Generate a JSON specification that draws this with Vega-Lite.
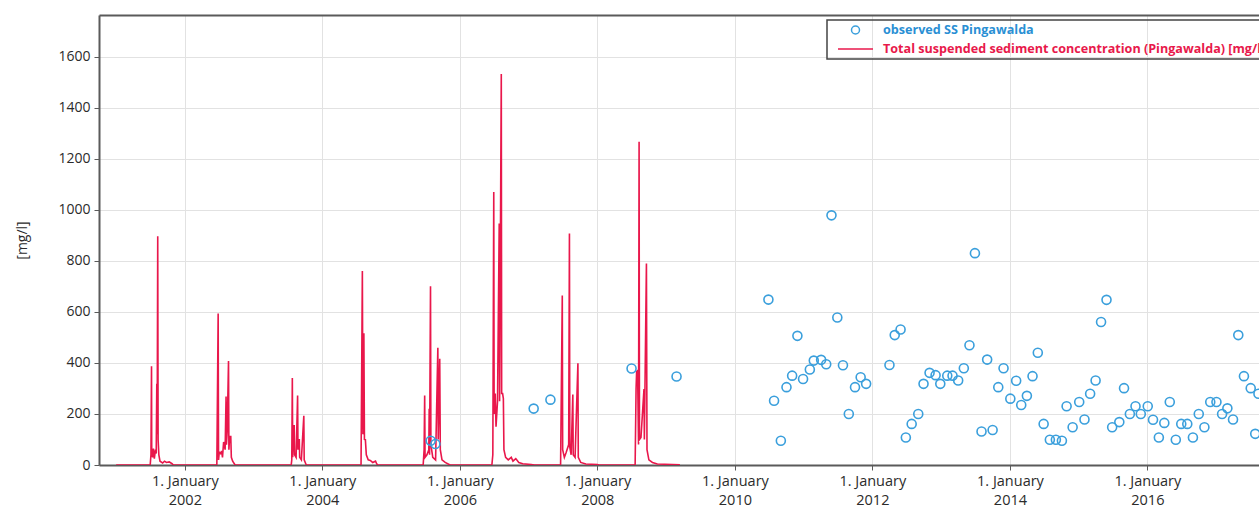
{
  "$schema": "https://vega.github.io/schema/vega-lite/v6.json",
  "width": 1160,
  "height": 450,
  "autosize": {"type": "none"},
  "padding": {"left": 99, "top": 15, "right": 0, "bottom": 46},
  "background": "white",
  "config": {
    "view": {"stroke": null},
    "font": "Open Sans",
    "axis": {
      "labelFont": "Open Sans",
      "labelFontSize": 14,
      "labelColor": "#2b2b2b",
      "titleFont": "Open Sans",
      "titleFontSize": 14,
      "titleFontWeight": "normal",
      "titleColor": "#2b2b2b",
      "gridColor": "#e2e2e2",
      "gridWidth": 1,
      "domainColor": "#5a5a5a",
      "domainWidth": 2,
      "tickColor": "#5a5a5a",
      "tickSize": 5,
      "tickWidth": 1
    }
  },
  "datasets": {
    "sim": [
      {"date": "2001-01-01", "v": 0},
      {"date": "2001-07-01", "v": 0},
      {"date": "2001-07-05", "v": 40},
      {"date": "2001-07-08", "v": 387},
      {"date": "2001-07-09", "v": 60},
      {"date": "2001-07-14", "v": 30},
      {"date": "2001-07-18", "v": 64},
      {"date": "2001-07-23", "v": 25},
      {"date": "2001-07-29", "v": 60},
      {"date": "2001-08-02", "v": 45},
      {"date": "2001-08-05", "v": 318},
      {"date": "2001-08-07", "v": 120},
      {"date": "2001-08-10", "v": 896},
      {"date": "2001-08-12", "v": 100},
      {"date": "2001-08-16", "v": 40},
      {"date": "2001-08-22", "v": 15},
      {"date": "2001-09-05", "v": 8},
      {"date": "2001-09-15", "v": 15},
      {"date": "2001-09-25", "v": 10},
      {"date": "2001-10-10", "v": 12},
      {"date": "2001-10-25", "v": 5},
      {"date": "2001-11-01", "v": 0},
      {"date": "2002-06-20", "v": 0},
      {"date": "2002-06-27", "v": 594},
      {"date": "2002-06-29", "v": 20},
      {"date": "2002-07-03", "v": 50},
      {"date": "2002-07-10", "v": 45},
      {"date": "2002-07-15", "v": 55},
      {"date": "2002-07-20", "v": 30},
      {"date": "2002-07-26", "v": 90},
      {"date": "2002-08-03", "v": 60},
      {"date": "2002-08-08", "v": 268},
      {"date": "2002-08-10", "v": 80},
      {"date": "2002-08-14", "v": 130},
      {"date": "2002-08-21", "v": 407},
      {"date": "2002-08-23", "v": 60},
      {"date": "2002-08-27", "v": 111},
      {"date": "2002-09-02", "v": 111},
      {"date": "2002-09-05", "v": 30},
      {"date": "2002-09-12", "v": 15},
      {"date": "2002-09-25", "v": 0},
      {"date": "2003-07-20", "v": 0},
      {"date": "2003-07-23", "v": 20},
      {"date": "2003-07-26", "v": 341},
      {"date": "2003-07-28", "v": 30},
      {"date": "2003-08-03", "v": 154},
      {"date": "2003-08-05", "v": 154},
      {"date": "2003-08-07", "v": 40},
      {"date": "2003-08-15", "v": 30},
      {"date": "2003-08-23", "v": 272},
      {"date": "2003-08-25", "v": 60},
      {"date": "2003-09-01", "v": 102},
      {"date": "2003-09-03", "v": 30},
      {"date": "2003-09-12", "v": 20},
      {"date": "2003-09-25", "v": 193},
      {"date": "2003-09-27", "v": 20},
      {"date": "2003-10-08", "v": 0},
      {"date": "2004-07-25", "v": 0},
      {"date": "2004-08-01", "v": 760},
      {"date": "2004-08-04", "v": 120},
      {"date": "2004-08-09", "v": 516},
      {"date": "2004-08-12", "v": 100},
      {"date": "2004-08-17", "v": 99},
      {"date": "2004-08-22", "v": 40},
      {"date": "2004-09-01", "v": 20},
      {"date": "2004-09-12", "v": 18},
      {"date": "2004-09-25", "v": 10},
      {"date": "2004-10-10", "v": 15},
      {"date": "2004-10-16", "v": 5},
      {"date": "2004-10-20", "v": 0},
      {"date": "2005-06-20", "v": 0},
      {"date": "2005-06-25", "v": 60},
      {"date": "2005-06-28", "v": 272},
      {"date": "2005-06-30", "v": 30},
      {"date": "2005-07-10", "v": 40},
      {"date": "2005-07-20", "v": 60},
      {"date": "2005-07-22", "v": 220},
      {"date": "2005-07-24", "v": 40},
      {"date": "2005-07-29", "v": 700},
      {"date": "2005-07-31", "v": 80},
      {"date": "2005-08-10", "v": 30},
      {"date": "2005-08-25", "v": 20},
      {"date": "2005-09-06", "v": 459},
      {"date": "2005-09-08", "v": 100},
      {"date": "2005-09-16", "v": 416},
      {"date": "2005-09-19", "v": 60},
      {"date": "2005-09-28", "v": 20},
      {"date": "2005-10-15", "v": 10},
      {"date": "2005-11-10", "v": 0},
      {"date": "2006-06-20", "v": 0},
      {"date": "2006-06-25", "v": 40},
      {"date": "2006-06-30", "v": 1070},
      {"date": "2006-07-02", "v": 200},
      {"date": "2006-07-08", "v": 280},
      {"date": "2006-07-12", "v": 150},
      {"date": "2006-07-20", "v": 250},
      {"date": "2006-07-29", "v": 946},
      {"date": "2006-07-31", "v": 250},
      {"date": "2006-08-09", "v": 1532},
      {"date": "2006-08-11", "v": 280},
      {"date": "2006-08-16", "v": 280},
      {"date": "2006-08-20", "v": 260},
      {"date": "2006-08-23", "v": 60},
      {"date": "2006-09-01", "v": 30},
      {"date": "2006-09-15", "v": 20},
      {"date": "2006-10-01", "v": 30},
      {"date": "2006-10-10", "v": 15},
      {"date": "2006-10-25", "v": 25},
      {"date": "2006-11-10", "v": 10},
      {"date": "2006-12-01", "v": 5},
      {"date": "2007-01-15", "v": 2},
      {"date": "2007-02-01", "v": 0},
      {"date": "2007-06-20", "v": 0},
      {"date": "2007-06-29", "v": 664},
      {"date": "2007-07-01", "v": 60},
      {"date": "2007-07-10", "v": 30},
      {"date": "2007-07-20", "v": 50},
      {"date": "2007-08-02", "v": 80},
      {"date": "2007-08-06", "v": 907},
      {"date": "2007-08-08", "v": 70},
      {"date": "2007-08-15", "v": 40},
      {"date": "2007-08-24", "v": 276},
      {"date": "2007-08-26", "v": 40},
      {"date": "2007-09-05", "v": 30},
      {"date": "2007-09-20", "v": 399},
      {"date": "2007-09-22", "v": 30},
      {"date": "2007-10-05", "v": 10},
      {"date": "2007-11-01", "v": 4},
      {"date": "2008-01-01", "v": 2},
      {"date": "2008-01-10", "v": 0},
      {"date": "2008-07-20", "v": 0},
      {"date": "2008-07-25", "v": 300},
      {"date": "2008-07-28", "v": 367},
      {"date": "2008-08-02", "v": 370},
      {"date": "2008-08-07", "v": 80},
      {"date": "2008-08-10", "v": 1266},
      {"date": "2008-08-12", "v": 100},
      {"date": "2008-08-20", "v": 108},
      {"date": "2008-09-05", "v": 298},
      {"date": "2008-09-07", "v": 100},
      {"date": "2008-09-18", "v": 789},
      {"date": "2008-09-21", "v": 60},
      {"date": "2008-10-01", "v": 20},
      {"date": "2008-10-20", "v": 10},
      {"date": "2008-11-15", "v": 4},
      {"date": "2009-03-15", "v": 1}
    ],
    "obs": [
      {"date": "2005-07-30", "v": 95},
      {"date": "2005-08-24", "v": 82},
      {"date": "2007-01-28", "v": 221},
      {"date": "2007-04-27", "v": 256},
      {"date": "2008-07-01", "v": 378},
      {"date": "2009-02-25", "v": 347},
      {"date": "2010-06-28", "v": 648},
      {"date": "2010-07-28", "v": 252},
      {"date": "2010-09-02", "v": 95},
      {"date": "2010-10-02", "v": 305},
      {"date": "2010-11-01", "v": 350},
      {"date": "2010-11-29", "v": 506},
      {"date": "2010-12-29", "v": 337},
      {"date": "2011-02-03", "v": 374},
      {"date": "2011-02-24", "v": 409},
      {"date": "2011-04-04", "v": 412},
      {"date": "2011-05-01", "v": 395},
      {"date": "2011-05-29", "v": 978},
      {"date": "2011-06-29", "v": 578},
      {"date": "2011-07-29", "v": 391},
      {"date": "2011-08-29", "v": 200},
      {"date": "2011-10-01", "v": 305},
      {"date": "2011-10-31", "v": 344},
      {"date": "2011-11-29", "v": 318},
      {"date": "2012-04-01", "v": 392},
      {"date": "2012-04-29", "v": 509},
      {"date": "2012-05-30", "v": 531},
      {"date": "2012-06-27", "v": 108},
      {"date": "2012-07-28", "v": 161},
      {"date": "2012-09-01", "v": 200},
      {"date": "2012-09-29", "v": 318},
      {"date": "2012-10-31", "v": 361},
      {"date": "2012-12-02", "v": 352},
      {"date": "2012-12-27", "v": 318},
      {"date": "2013-02-02", "v": 350},
      {"date": "2013-03-02", "v": 350},
      {"date": "2013-04-01", "v": 331},
      {"date": "2013-05-01", "v": 379},
      {"date": "2013-05-31", "v": 469},
      {"date": "2013-06-29", "v": 830},
      {"date": "2013-08-03", "v": 131},
      {"date": "2013-09-02", "v": 413},
      {"date": "2013-10-01", "v": 137},
      {"date": "2013-10-31", "v": 305},
      {"date": "2013-11-28", "v": 379},
      {"date": "2014-01-03", "v": 260},
      {"date": "2014-02-03", "v": 330},
      {"date": "2014-03-02", "v": 235},
      {"date": "2014-04-01", "v": 271},
      {"date": "2014-05-01", "v": 348},
      {"date": "2014-05-29", "v": 440},
      {"date": "2014-06-29", "v": 161},
      {"date": "2014-08-01", "v": 99},
      {"date": "2014-09-02", "v": 99},
      {"date": "2014-10-04", "v": 95},
      {"date": "2014-10-29", "v": 230},
      {"date": "2014-11-30", "v": 148},
      {"date": "2015-01-04", "v": 247},
      {"date": "2015-02-01", "v": 178},
      {"date": "2015-03-03", "v": 279},
      {"date": "2015-04-01", "v": 331},
      {"date": "2015-04-30", "v": 560},
      {"date": "2015-05-29", "v": 647},
      {"date": "2015-06-28", "v": 148},
      {"date": "2015-08-05", "v": 168},
      {"date": "2015-08-30", "v": 301},
      {"date": "2015-09-30", "v": 200},
      {"date": "2015-10-30", "v": 230},
      {"date": "2015-11-27", "v": 200},
      {"date": "2016-01-03", "v": 230},
      {"date": "2016-01-31", "v": 177},
      {"date": "2016-03-02", "v": 108},
      {"date": "2016-03-31", "v": 165},
      {"date": "2016-04-29", "v": 247},
      {"date": "2016-05-31", "v": 99},
      {"date": "2016-06-29", "v": 161},
      {"date": "2016-07-31", "v": 161},
      {"date": "2016-08-30", "v": 108},
      {"date": "2016-09-30", "v": 200},
      {"date": "2016-10-30", "v": 148},
      {"date": "2016-11-30", "v": 247},
      {"date": "2017-01-02", "v": 247},
      {"date": "2017-02-01", "v": 200},
      {"date": "2017-03-01", "v": 222},
      {"date": "2017-03-31", "v": 178},
      {"date": "2017-04-28", "v": 509},
      {"date": "2017-05-28", "v": 348},
      {"date": "2017-07-03", "v": 301},
      {"date": "2017-07-27", "v": 122},
      {"date": "2017-08-13", "v": 279}
    ]
  },
  "encoding": {
    "y": {
      "field": "v",
      "type": "quantitative",
      "scale": {"domain": [0, 1763], "nice": false, "zero": true},
      "axis": {
        "title": "[mg/l]",
        "values": [0, 200, 400, 600, 800, 1000, 1200, 1400, 1600],
        "format": "d",
        "labelPadding": 4,
        "titlePadding": 28,
        "grid": true
      }
    }
  },
  "layer": [
    {
      "data": {"name": "sim"},
      "mark": {"type": "line", "strokeWidth": 1.6, "clip": true},
      "encoding": {
        "x": {
          "field": "date",
          "type": "temporal",
          "scale": {"domain": ["2000-10-02", "2017-08-16"], "nice": false},
          "axis": {
            "title": null,
            "orient": "bottom",
            "values": [
              {"year": 2002, "month": 1, "date": 1},
              {"year": 2004, "month": 1, "date": 1},
              {"year": 2006, "month": 1, "date": 1},
              {"year": 2008, "month": 1, "date": 1},
              {"year": 2010, "month": 1, "date": 1},
              {"year": 2012, "month": 1, "date": 1},
              {"year": 2014, "month": 1, "date": 1},
              {"year": 2016, "month": 1, "date": 1}
            ],
            "labelExpr": "['1. January', timeFormat(datum.value, '%Y')]",
            "labelFontSize": 14.5,
            "labelLineHeight": 19,
            "labelPadding": 4,
            "labelAlign": "center",
            "grid": true
          }
        },
        "color": {
          "datum": "Total suspended sediment concentration (Pingawalda) [mg/l]",
          "type": "nominal",
          "scale": {
            "domain": ["observed SS Pingawalda", "Total suspended sediment concentration (Pingawalda) [mg/l]"],
            "range": ["#3a9fdc", "#e9174b"]
          },
          "legend": {
            "orient": "none",
            "legendX": 728,
            "legendY": 5,
            "title": null,
            "direction": "vertical",
            "strokeColor": "#444444",
            "padding": 3,
            "rowPadding": 5,
            "clipHeight": 14,
            "symbolOffset": 7,
            "labelOffset": 9,
            "symbolSize": 1225,
            "symbolStrokeWidth": 1.5,
            "labelFont": "Open Sans",
            "labelFontSize": 12.6,
            "labelFontWeight": "bold",
            "labelLimit": 0,
            "encode": {
              "legend": {"update": {"strokeWidth": {"value": 1.5}}},
              "symbols": {
                "update": {
                  "shape": {"signal": "datum.value === 'observed SS Pingawalda' ? 'circle' : 'stroke'"},
                  "size": {"signal": "datum.value === 'observed SS Pingawalda' ? 64 : 1225"},
                  "fill": {"value": "transparent"},
                  "strokeWidth": {"value": 1.5}
                }
              },
              "labels": {
                "update": {
                  "fill": {"signal": "datum.value === 'observed SS Pingawalda' ? '#2a8fd4' : '#e8194b'"}
                }
              }
            }
          }
        }
      }
    },
    {
      "data": {"name": "obs"},
      "mark": {"type": "point", "filled": false, "size": 81, "strokeWidth": 1.6, "opacity": 1},
      "encoding": {
        "x": {
          "field": "date",
          "type": "temporal",
          "scale": {"domain": ["2000-10-02", "2017-08-16"], "nice": false},
          "axis": {
            "title": null,
            "orient": "top",
            "labels": false,
            "ticks": false,
            "grid": false,
            "domain": true
          }
        },
        "color": {"datum": "observed SS Pingawalda", "type": "nominal"}
      }
    }
  ],
  "resolve": {"axis": {"x": "independent"}}
}
